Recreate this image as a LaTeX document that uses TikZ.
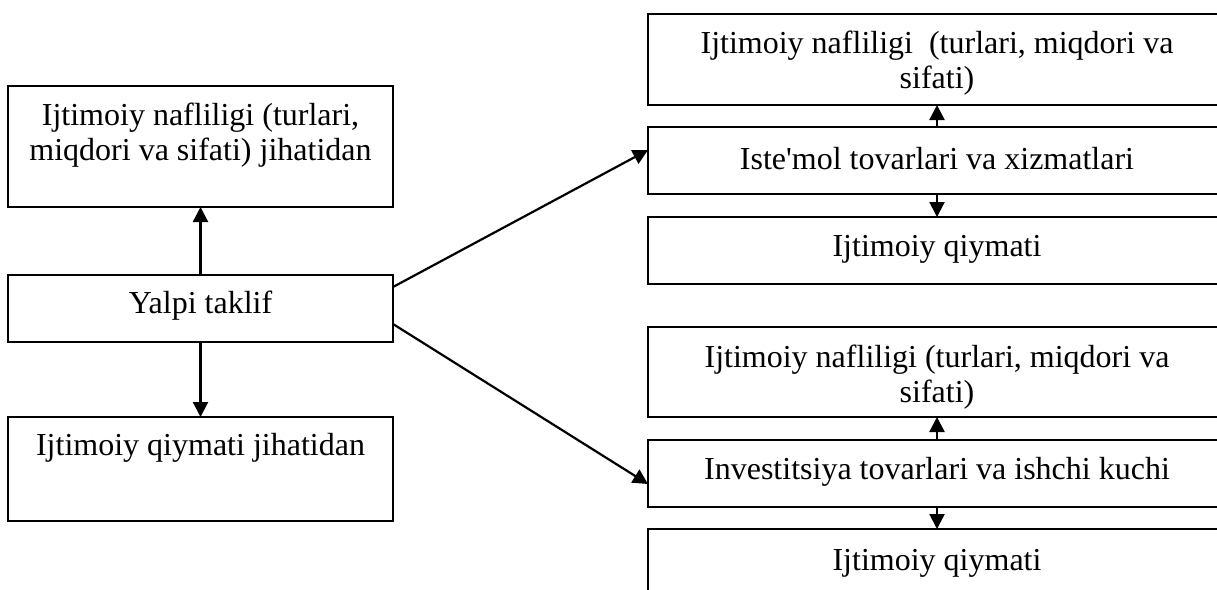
\documentclass[tikz,border=0pt]{standalone}
\usepackage{fontspec}
\setmainfont{Liberation Serif}[Ligatures=TeXOff]
\usetikzlibrary{arrows.meta}
\begin{document}
\begin{tikzpicture}[x=1pt,y=-1pt,
  box/.style={draw,line width=2.2pt,inner sep=0pt,outer sep=0pt},
  txt/.style={font=\fontsize{32}{35}\selectfont,align=center,inner sep=0pt},
  arr/.style={line width=2.2pt,-{Triangle[length=15pt,width=15pt]}}]
\useasboundingbox (0,0) rectangle (1217,589);
\clip (0,0) rectangle (1217,589);
% left column
\node[box,minimum width=385pt,minimum height=121pt] (A) at (200.5,146.5) {};
\node[box,minimum width=385pt,minimum height=67pt] (Y) at (200.5,308.5) {};
\node[box,minimum width=385pt,minimum height=104pt] (C) at (200.5,469) {};
\node[txt] (tA) at (200.5,135) {Ijtimoiy nafliligi (turlari,\\miqdori va sifati) jihatidan};
\node[txt] (tY) at (200.5,306) {Yalpi taklif};
\node[txt] (tC) at (200.5,448) {Ijtimoiy qiymati jihatidan};
% right column
\node[box,minimum width=578pt,minimum height=91pt] (R1) at (937,59.5) {};
\node[box,minimum width=578pt,minimum height=67pt] (R2) at (937,160.5) {};
\node[box,minimum width=578pt,minimum height=67pt] (R3) at (937,250.5) {};
\node[box,minimum width=578pt,minimum height=90pt] (R4) at (937,372) {};
\node[box,minimum width=578pt,minimum height=67pt] (R5) at (937,473.5) {};
\node[box,minimum width=578pt,minimum height=90pt] (R6) at (937,574) {};
\node[txt] (t1) at (937,63) {Ijtimoiy nafliligi \ (turlari, miqdori va\\sifati)};
\node[txt] (t2) at (937,159) {Iste'mol tovarlari va xizmatlari};
\node[txt] (t3) at (937,249) {Ijtimoiy qiymati};
\node[txt] (t4) at (937,377) {Ijtimoiy nafliligi (turlari, miqdori va\\sifati)};
\node[txt] (t5) at (937,472) {Investitsiya tovarlari va ishchi kuchi};
\node[txt] (t6) at (937,563) {Ijtimoiy qiymati};
% connectors
\draw[arr] (Y.north -| A.south) -- (A.south);
\draw[arr] (Y.south -| C.north) -- (C.north);
\draw[arr] ([yshift=-12pt]Y.north east) -- ([yshift=-23pt]R2.north west);
\draw[arr] ([yshift=18pt]Y.south east) -- ([yshift=-44pt]R5.north west);
\draw[arr] (R2.north) -- (R1.south);
\draw[arr] (R2.south) -- (R3.north);
\draw[arr] (R5.north) -- (R4.south);
\draw[arr] (R5.south) -- (R6.north);
\end{tikzpicture}
\end{document}
